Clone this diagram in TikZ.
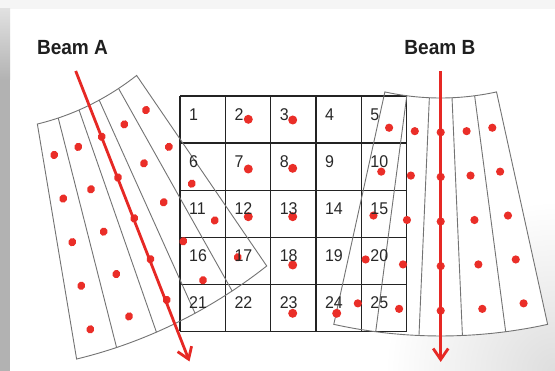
\documentclass[tikz,border=0pt]{standalone}
\usepackage{fontspec}
\setmainfont{Liberation Sans}
\newfontfamily\labelfont[FakeStretch=0.93]{Liberation Sans}
\newfontfamily\numfont[FakeStretch=0.94]{Liberation Sans}
\usetikzlibrary{arrows.meta,calc}
\definecolor{dotred}{RGB}{234,46,40}
\definecolor{arrowred}{RGB}{230,40,36}
\definecolor{gridgray}{RGB}{35,35,35}
\definecolor{fangray}{RGB}{115,115,115}
\definecolor{numgray}{RGB}{40,40,40}
\newcommand{\fanfill}{\fill[white] plot[domain=77.6:102.4,samples=40] ({260*cos(\x)},{-383.5+260*sin(\x)}) -- plot[domain=102.4:77.6,samples=40] ({498*cos(\x)},{-383.5+498*sin(\x)}) -- cycle;}
\newcommand{\fanlines}{\draw[fanline] plot[domain=77.6:102.4,samples=40] ({260*cos(\x)},{-383.5+260*sin(\x)}) -- plot[domain=102.4:77.6,samples=40] ({498*cos(\x)},{-383.5+498*sin(\x)}) -- cycle;
\foreach \a in {82.5,87.5,92.5,97.5} {\draw[fanline] ({260*cos(\a)},{-383.5+260*sin(\a)}) -- ({498*cos(\a)},{-383.5+498*sin(\a)});}}
\newcommand{\fandots}{\foreach \a in {79.9,84.95,90,95.05,100.1} {\foreach \r in {294.3,338.9,383.5,428.1,472.7} {\fill[dotred] ({\r*cos(\a)},{-383.5+\r*sin(\a)}) circle[radius=4.1pt];}}}
\begin{document}
\begin{tikzpicture}[x=1pt,y=-1pt,
  fanline/.style={draw=fangray,line width=0.9pt},
  gridline/.style={draw=gridgray,line width=1.3pt},
  beamarrow/.style={draw=arrowred,line width=2.8pt,-{Straight Barb[length=11pt,width=15pt]}},
  num/.style={anchor=base west,inner sep=0pt,text=numgray,font=\numfont\fontsize{17}{20}\selectfont},
  beamlabel/.style={anchor=base west,inner sep=0pt,text=black!88,font=\labelfont\bfseries\fontsize{20.5}{24}\selectfont}]
\useasboundingbox (0,0) rectangle (555,371);
% background
\fill[white] (0,0) rectangle (555,371);
\begin{scope}
  \clip (0,0) rectangle (555,371);
  \shade[inner color=black!13,outer color=white] (555,371) circle[radius=170];
\end{scope}
\fill[black!4] (0,0) rectangle (555,9);
\shade[top color=black!12,bottom color=black!30] (0,9) rectangle (10,80);
\fill[black!30] (0,80) rectangle (10,371);
% fan fills
\begin{scope}[shift={(440.7,221.5)}] \fanfill \end{scope}
\begin{scope}[cm={0.889,0.435,-0.3643,0.9154,(134.2,218.35)}] \fanfill \end{scope}
% grid
\foreach \i in {0,...,5} {
  \draw[gridline] ({180+45.3*\i},96) -- ({180+45.3*\i},331.5);
  \draw[gridline] (180,{96+47.1*\i}) -- (406.5,{96+47.1*\i});
}
% fans
\begin{scope}[shift={(440.7,221.5)}] \fanlines \fandots \end{scope}
\begin{scope}[cm={0.889,0.435,-0.3643,0.9154,(134.2,218.35)}] \fanlines \fandots \end{scope}
% grid dots
\foreach \p in {(248.3,119.3),(292.7,120),(248.3,169),(292.7,168.3),(248.3,216.7),(292.7,216.7),(292.7,265),(292.7,313.3),(336.7,313.3)}
  \fill[dotred] \p circle[radius=4.5pt];
% arrows
\coordinate (aTop) at (75.7,71);
\coordinate (aTip) at (189.5,361.5);
\coordinate (bTop) at (440.7,71.5);
\coordinate (bTip) at (440.7,362);
\draw[beamarrow] (aTop) -- (aTip);
\draw[beamarrow] (bTop) -- (bTip);
% numbers
\foreach \r in {0,...,4} {
  \foreach \c in {0,...,4} {
    \pgfmathtruncatemacro\k{5*\r+\c+1}
    \node[num] (n\k) at ({189+45.3*\c},{120.3+47.1*\r}) {\k};
  }
}
% labels
\node[beamlabel] (labA) at (36.8,55) {Beam A};
\node[beamlabel] (labB) at (404.2,55) {Beam B};
\end{tikzpicture}
\end{document}
